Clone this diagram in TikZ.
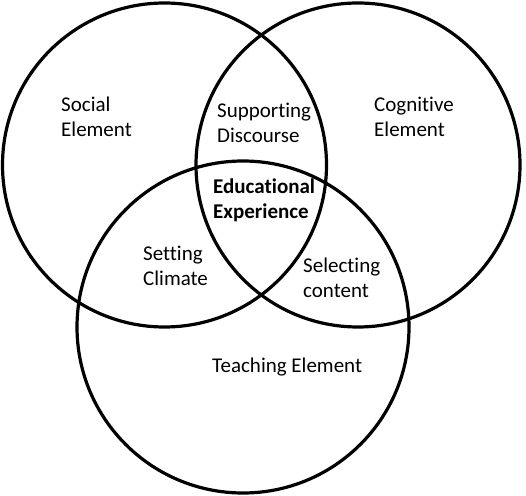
\documentclass[tikz,border=0pt]{standalone}
\usepackage{fontspec}
\setmainfont{Carlito}[Ligatures=NoCommon]
\usepackage{tikz}
\usetikzlibrary{positioning}

\begin{document}
\begin{tikzpicture}[x=1pt,y=1pt,
    every node/.style={font=\fontsize{21}{25}\selectfont},
    ring/.style={draw=black,line width=3.2pt},
    lbl/.style={align=left,anchor=base west,inner sep=0pt}]
  \useasboundingbox (0,0) rectangle (526,495);
  % the three elements
  \coordinate (social) at (164.5,330);
  \coordinate (cognitive) at (358,330);
  \coordinate (teaching) at (243,168);
  \draw[ring] (social) circle (162);
  \draw[ring] (cognitive) circle (162);
  \draw[ring] (teaching) circle (166);
  % labels
  \node[lbl] (soc) at (61,358) {Social\\Element};
  \node[lbl] (cog) at (374,358) {Cognitive\\Element};
  \node[lbl] (sup) at (217,352) {Supporting\\Discourse};
  \node[lbl,font=\fontsize{21}{25}\selectfont\bfseries] (edu) at (213,276) {Educational\\Experience};
  \node[lbl] (set) at (143,209) {Setting\\Climate};
  \node[lbl] (sel) at (303,197) {Selecting\\content};
  \node[lbl] (tea) at (212,123) {Teaching Element};
\end{tikzpicture}
\end{document}
